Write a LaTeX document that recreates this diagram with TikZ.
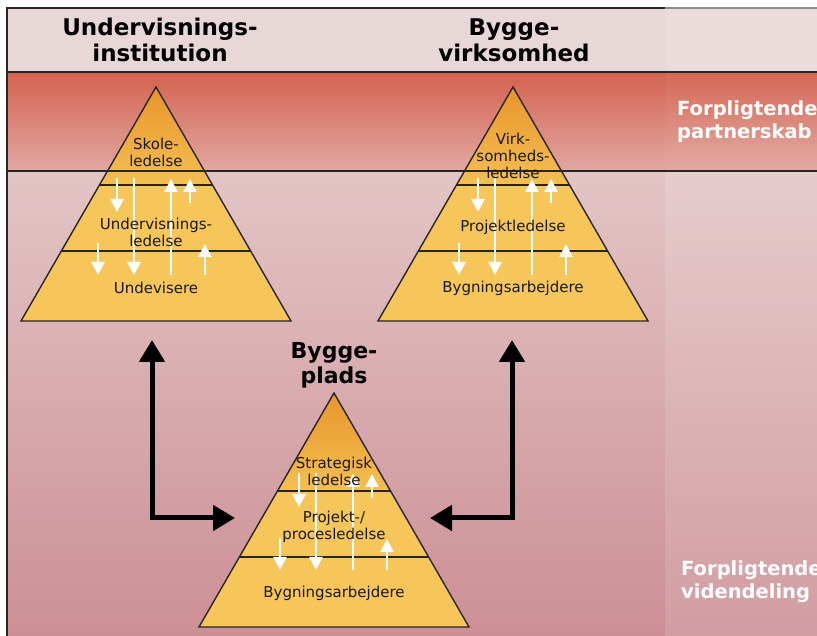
\documentclass[tikz,border=0pt]{standalone}
\usepackage{fontspec}
\setmainfont{DejaVu Sans}
\usepackage{xcolor}
\usetikzlibrary{arrows.meta, positioning}
\definecolor{headbg}{HTML}{E7D8D7}
\definecolor{bandtop}{HTML}{D4624F}
\definecolor{bandbottom}{HTML}{E1A8A2}
\definecolor{lowtop}{HTML}{E3C5C6}
\definecolor{lowbottom}{HTML}{CC8F95}
\definecolor{apexorange}{HTML}{E8952C}
\definecolor{topyellow}{HTML}{F4BF52}
\definecolor{layeryellow}{HTML}{F6C65B}
\tikzset{
    title/.style={align=center, font=\fontsize{23}{26}\selectfont\bfseries, inner sep=0pt},
    level/.style={align=center, font=\fontsize{15}{17}\selectfont, inner sep=0pt, text=black!90},
    side/.style={align=left, anchor=west, font=\fontsize{19.5}{23}\selectfont\bfseries, text=white, inner sep=0pt},
    flow/.style={-{Triangle[length=13pt, width=13pt]}, white, line width=2.6pt},
    link/.style={{Triangle[length=22pt, width=25pt]}-{Triangle[length=22pt, width=25pt]}, line width=5pt},
    edge/.style={line width=1.4pt, black!85},
}

\begin{document}
\begin{tikzpicture}[x=1pt, y=1pt]
    \clip (0,0) rectangle (817,636);
    \fill[white] (0,0) rectangle (817,636);

    % background bands
    \fill[headbg] (7,564) rectangle (817,628);
    \shade[top color=bandtop, bottom color=bandbottom] (7,465) rectangle (817,564);
    \shade[top color=lowtop, bottom color=lowbottom] (7,0) rectangle (817,465);
    \fill[white, opacity=0.12] (665,564) rectangle (817,628);
    \fill[white, opacity=0.04] (665,465) rectangle (817,564);
    \fill[white, opacity=0.12] (665,0) rectangle (817,465);

    % the three pyramids
    \foreach \px/\py/\s/\dx in {156/549/0/-4, 513/549/0/0, 334/243/11/0} {
      \begin{scope}[shift={(\px,\py)}]
        \shade[top color=apexorange, bottom color=topyellow] (0,0) -- (-56.5,-98) -- (56.5,-98) -- cycle;
        \fill[layeryellow] (-56.5,-98) -- (-135,-234) -- (135,-234) -- (56.5,-98) -- cycle;
        \draw[edge] (0,0) -- (-135,-234) -- (135,-234) -- cycle;
        \draw[edge] (-56.5,-98) -- (56.5,-98);
        \draw[edge] (-94.6,-164) -- (94.6,-164);
        \begin{scope}[xshift=\dx]
          \draw[flow] (-35,-91+\s) -- (-35,-125+\s);
          \draw[flow] (-18,-91+\s) -- (-18,-188+\s);
          \draw[flow] (-54,-156+\s) -- (-54,-188+\s);
          \draw[flow] (19,-188+\s) -- (19,-92+\s);
          \draw[flow] (38,-116+\s) -- (38,-92+\s);
          \draw[flow] (53,-188+\s) -- (53,-157+\s);
        \end{scope}
      \end{scope}
    }

    % frame and band lines
    \draw[edge] (7,0) -- (7,628) -- (665,628);
    \draw[line width=1.4pt, black!45] (665,628) -- (817,628);
    \draw[edge] (7,564) -- (817,564);
    \draw[edge] (7,465) -- (817,465);

    % headings
    \node[title] (school) at (160,596) {Undervisnings-\\institution};
    \node[title] (company) at (514,596) {Bygge-\\virksomhed};
    \node[title, font=\fontsize{22}{25}\selectfont\bfseries] (site) at (334,271) {Bygge-\\plads};

    % levels
    \node[level] (schoolmgmt) at (156,484) {Skole-\\ledelse};
    \node[level] (teachmgmt) at (156,404) {Undervisnings-\\ledelse};
    \node[level] (teachers) at (156,348) {Undevisere};
    \node[level] (companymgmt) at (513,480) {Virk-\\somheds-\\ledelse};
    \node[level] (projmgmt) at (513,409) {Projektledelse};
    \node[level] (workers) at (513,348) {Bygningsarbejdere};
    \node[level] (strategy) at (334,165) {Strategisk\\ledelse};
    \node[level] (process) at (334,109) {Projekt-/\\procesledelse};
    \node[level] (siteworkers) at (334,43) {Bygningsarbejdere};

    % side labels
    \node[side] (partner) at (677,514) {Forpligtende\\partnerskab};
    \node[side] (sharing) at (681,54) {Forpligtende\\videndeling};

    % links to the building site
    \coordinate (lefttip) at (152,296);
    \coordinate (siteleft) at (235,118);
    \coordinate (righttip) at (512,296);
    \coordinate (siteright) at (430,118);
    \draw[link] (lefttip) |- (siteleft);
    \draw[link] (righttip) |- (siteright);

\end{tikzpicture}
\end{document}
